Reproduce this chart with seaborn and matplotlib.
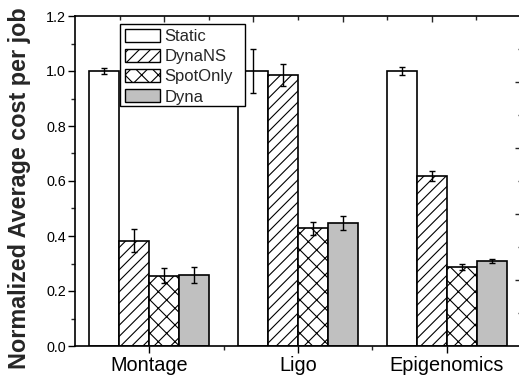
import numpy as np
import pandas as pd
import matplotlib
matplotlib.use("Agg")
import matplotlib.pyplot as plt
import matplotlib.patches as mpatches
import seaborn as sns
from matplotlib.ticker import FixedLocator, MultipleLocator, NullFormatter

# ---- data ----
workflows = ["Montage", "Ligo", "Epigenomics"]
methods = ["Static", "DynaNS", "SpotOnly", "Dyna"]
static_vals = [1.00, 1.00, 1.00]
dynans_vals = [0.383, 0.987, 0.619]
spotonly_vals = [0.256, 0.428, 0.288]
dyna_vals = [0.258, 0.448, 0.309]
static_err = [0.011, 0.081, 0.013]
dynans_err = [0.042, 0.040, 0.018]
spotonly_err = [0.028, 0.023, 0.010]
dyna_err = [0.030, 0.025, 0.008]
y_ticks = [0.0, 0.2, 0.4, 0.6, 0.8, 1.0, 1.2]

values = {"Static": static_vals, "DynaNS": dynans_vals,
          "SpotOnly": spotonly_vals, "Dyna": dyna_vals}
errors = {"Static": static_err, "DynaNS": dynans_err,
          "SpotOnly": spotonly_err, "Dyna": dyna_err}

rows = []
for m in methods:
    for w, v in zip(workflows, values[m]):
        rows.append({"workflow": w, "method": m, "value": v})
df = pd.DataFrame(rows)

# ---- style ----
sns.set_style("ticks")
plt.rcParams["font.family"] = ["Liberation Sans", "DejaVu Sans"]
plt.rcParams["hatch.linewidth"] = 0.8

fills = {"Static": "white", "DynaNS": "white", "SpotOnly": "white", "Dyna": "#c0c0c0"}
hatches = {"Static": "", "DynaNS": "///", "SpotOnly": "xx", "Dyna": ""}

fig = plt.figure(figsize=(5.19, 3.78), dpi=100)
ax = fig.add_axes([75 / 519, 32 / 378, 446 / 519, 330 / 378])

sns.barplot(data=df, x="workflow", y="value", hue="method", order=workflows,
            hue_order=methods, palette=fills, width=0.805, errorbar=None,
            edgecolor="black", linewidth=1.2, saturation=1, ax=ax, legend=False)

for m, cont in zip(methods, ax.containers):
    xs = []
    for p in cont.patches:
        p.set_hatch(hatches[m])
        p.set_edgecolor("black")
        p.set_linewidth(1.2)
        xs.append(p.get_x() + p.get_width() / 2)
    ax.errorbar(xs, values[m], yerr=errors[m], fmt="none", ecolor="black",
                elinewidth=1.0, capsize=2.5, capthick=1.0, zorder=5)

ax.set_xlim(-0.5, 2.5)
ax.set_ylim(0, 1.2)
ax.set_yticks(y_ticks)
ax.set_yticklabels([f"{t:.1f}" for t in y_ticks])
ax.yaxis.set_minor_locator(MultipleLocator(0.1))
ax.xaxis.set_minor_locator(FixedLocator([0.5, 1.5]))
ax.set_xlabel("")
ax.set_ylabel("Normalized Average cost per job", fontsize=16.8,
              fontweight="bold")
ax.yaxis.set_label_coords(-0.099, 0.477)
ax.tick_params(axis="both", which="major", direction="out",
               length=5, width=1.0, color="black", labelcolor="black")
ax.tick_params(axis="y", which="major", labelsize=10.4, pad=1.5)
ax.tick_params(axis="x", which="major", labelsize=14.3, pad=2)
ax.tick_params(axis="both", which="minor", direction="out", length=3, width=1.0)
for s in ax.spines.values():
    s.set_visible(True)
    s.set_linewidth(1.2)
    s.set_color("black")

# decorative top / right ticks (inward)
top = ax.secondary_xaxis("top")
top.xaxis.set_major_locator(FixedLocator([0.1, 0.7, 1.3, 1.9]))
top.xaxis.set_minor_locator(FixedLocator([-0.2, 0.4, 1.0, 1.6, 2.2]))
top.xaxis.set_major_formatter(NullFormatter())
top.tick_params(which="major", direction="in", length=4, width=1.0)
top.tick_params(which="minor", direction="in", length=3, width=1.0)
top.spines["top"].set_visible(False)

right = ax.secondary_yaxis("right")
right.yaxis.set_major_locator(FixedLocator([0.24, 0.48, 0.72, 0.96]))
right.yaxis.set_minor_locator(FixedLocator([0.12, 0.36, 0.60, 0.84, 1.08]))
right.yaxis.set_major_formatter(NullFormatter())
right.tick_params(which="major", direction="in", length=4, width=1.0)
right.tick_params(which="minor", direction="in", length=2, width=1.0)
right.spines["right"].set_visible(False)

# legend with a manually sized frame (Origin-style wide box)
frame = mpatches.Rectangle((0.1009, 0.727), 0.280, 0.249, transform=ax.transAxes,
                           facecolor="white", edgecolor="black", linewidth=1.0,
                           zorder=6)
ax.add_patch(frame)
handles = [mpatches.Patch(facecolor=fills[m], edgecolor="black", hatch=hatches[m],
                          linewidth=1.0, label=m) for m in methods]
leg = ax.legend(handles=handles, loc="upper left", bbox_to_anchor=(0.101, 0.976),
                borderaxespad=0, fontsize=12, frameon=False,
                handlelength=2.1, handleheight=0.8, handletextpad=0.25,
                labelspacing=0.3, borderpad=0.3)
leg.set_zorder(7)

fig.savefig("out.png", dpi=100)
